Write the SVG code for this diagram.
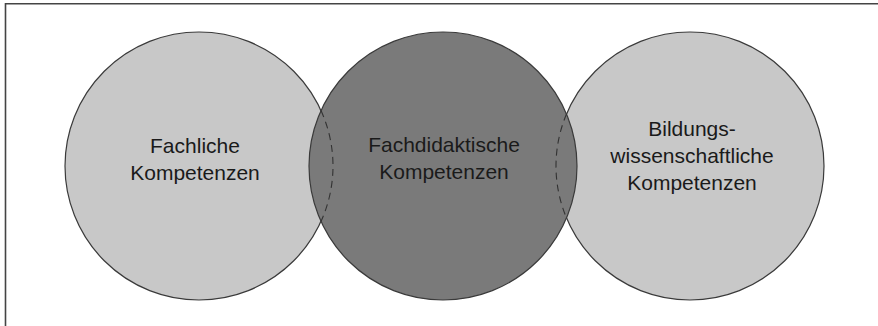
<svg xmlns="http://www.w3.org/2000/svg" width="878" height="326" viewBox="0 0 878 326">
<style>
.frame{stroke:#444;stroke-width:1.6;fill:none}
.outer{fill:#c8c8c8;stroke:#3a3a3a;stroke-width:1.2}
.inner{fill:#7a7a7a;stroke:#3a3a3a;stroke-width:1.2}
.dash{fill:none;stroke:#333;stroke-width:1.1;stroke-dasharray:7 5}
.lbl{font-family:"Liberation Sans",Arial,sans-serif;font-size:21px;fill:#1a1a1a;text-anchor:middle}
</style>
<rect width="878" height="326" fill="#fff"/>
<g id="frame">
<line class="frame" x1="5.5" y1="3.8" x2="878" y2="3.8"/>
<line class="frame" x1="5.5" y1="3" x2="5.5" y2="326"/>
</g>
<g id="node-fachliche">
<circle class="outer" cx="199" cy="166" r="134"/>
<text class="lbl" x="195" y="153">Fachliche</text>
<text class="lbl" x="195" y="180">Kompetenzen</text>
</g>
<g id="node-bildung">
<circle class="outer" cx="690" cy="166" r="134"/>
<text class="lbl" x="692" y="136">Bildungs-</text>
<text class="lbl" x="692" y="163">wissenschaftliche</text>
<text class="lbl" x="692" y="190">Kompetenzen</text>
</g>
<g id="node-fachdidaktik">
<circle class="inner" cx="443" cy="166" r="134"/>
<text class="lbl" x="444" y="152">Fachdidaktische</text>
<text class="lbl" x="444" y="179">Kompetenzen</text>
</g>
<g id="connectors">
<path class="dash" d="M 321 110.6 A 134 134 0 0 1 321 221.4"/>
<path class="dash" d="M 566.5 114 A 134 134 0 0 0 566.5 218"/>
</g>
</svg>
